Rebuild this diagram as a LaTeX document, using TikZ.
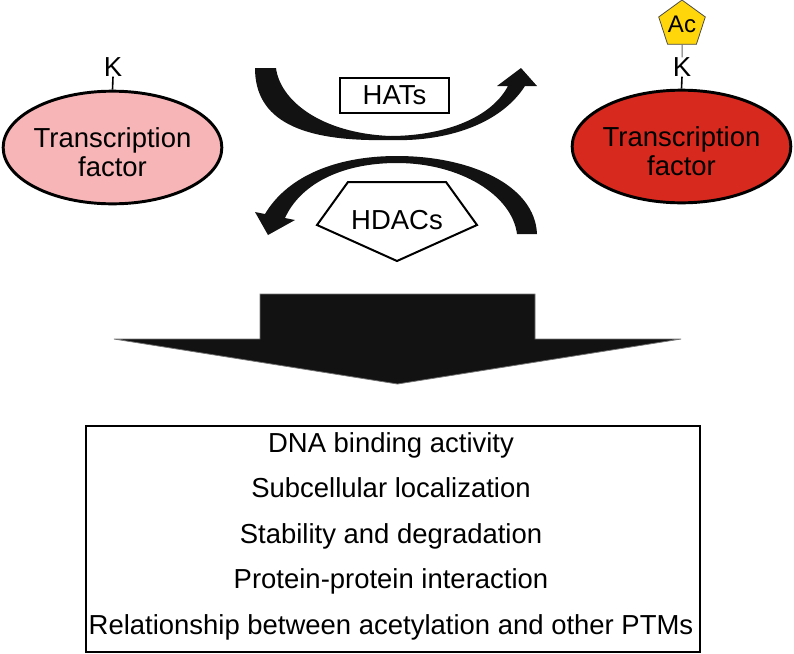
\documentclass[tikz,border=0pt]{standalone}
\usepackage{fontspec}
\setmainfont{Liberation Sans}
\usetikzlibrary{shapes.geometric}
\definecolor{tfpink}{HTML}{F7B5B8}
\definecolor{tfred}{HTML}{D8291F}
\definecolor{acyellow}{HTML}{FFD60A}
\definecolor{arrowblack}{HTML}{121212}
\begin{document}
\begin{tikzpicture}[x=0.75pt,y=-0.75pt,
  txt/.style={font=\fontsize{20.6}{22}\selectfont, inner sep=0pt, align=center},
  tfnode/.style={ellipse, draw=black, line width=2.2pt, minimum width=164pt, minimum height=84.5pt, inner sep=0pt},
  stalk/.style={draw=black, line width=1.2pt},
  bigshape/.style={fill=arrowblack, draw=black!55, line width=0.6pt}]
\useasboundingbox (0,0) rectangle (794,654);
% left transcription factor
\node[tfnode, fill=tfpink] (tfL) at (112.5,147.5) {};
\node[txt] (tfLtext) at (112.5,152.5) {Transcription\\factor};
\node[txt] (kL) at (113,67) {K};
\draw[stalk] (kL.south) -- (tfL.north);
% right transcription factor
\node[tfnode, fill=tfred] (tfR) at (681.5,146.5) {};
\node[txt] (tfRtext) at (681.5,151.5) {Transcription\\factor};
\node[txt] (kR) at (682,67) {K};
\node[regular polygon, regular polygon sides=5, draw=black!70, line width=0.6pt, fill=acyellow,
      minimum size=33.75pt, inner sep=0pt, font=\fontsize{18}{18}\selectfont] (ac) at (682,24.5) {Ac};
\draw[draw=black!60, line width=0.75pt] (ac.south) -- (kR.north);
\draw[stalk] (kR.south) -- (tfR.north);
% HATs arrow
\fill[arrowblack] (255,68) -- (276,68) .. controls (280,100) and (320,133) .. (390,136)
  .. controls (440,136) and (490,120) .. (508,86) -- (497,86) -- (521,68) -- (537,86) -- (525,86)
  .. controls (500,125) and (445,142) .. (390,140) .. controls (300,142) and (255,120) .. (255,68) -- cycle;
\node[txt, draw, line width=1.5pt, minimum width=81.75pt, minimum height=26.25pt] (hats) at (394.5,95.5) {HATs};
% HDACs arrow
\fill[arrowblack] (537,234) -- (517,234) .. controls (512,195) and (460,163) .. (397,163)
  .. controls (340,163) and (300,185) .. (285,218) -- (295,220) -- (268,235) -- (255,212) -- (265,214)
  .. controls (285,180) and (330,156) .. (397,156) .. controls (470,156) and (535,185) .. (537,234) -- cycle;
\draw[line width=1.5pt, fill=white] (348,182) -- (446,182) -- (477,225) -- (397,261) -- (317,225) -- cycle;
\node[txt] (hdacs) at (397,220) {HDACs};
% big down arrow
\filldraw[bigshape] (260,294) -- (535,294) -- (535,339) -- (681,339) -- (397.5,384) -- (114,339) -- (260,339) -- cycle;
% effects box
\node[draw, line width=1.8pt, minimum width=460.5pt, minimum height=169.5pt, inner sep=0pt] (effects) at (393,539) {};
\node[txt, font=\fontsize{20.6}{34.1}\selectfont] (effectstext) at (391,536)
  {DNA binding activity\\Subcellular localization\\Stability and degradation\\Protein-protein interaction\\Relationship between acetylation and other PTMs};
\end{tikzpicture}
\end{document}
